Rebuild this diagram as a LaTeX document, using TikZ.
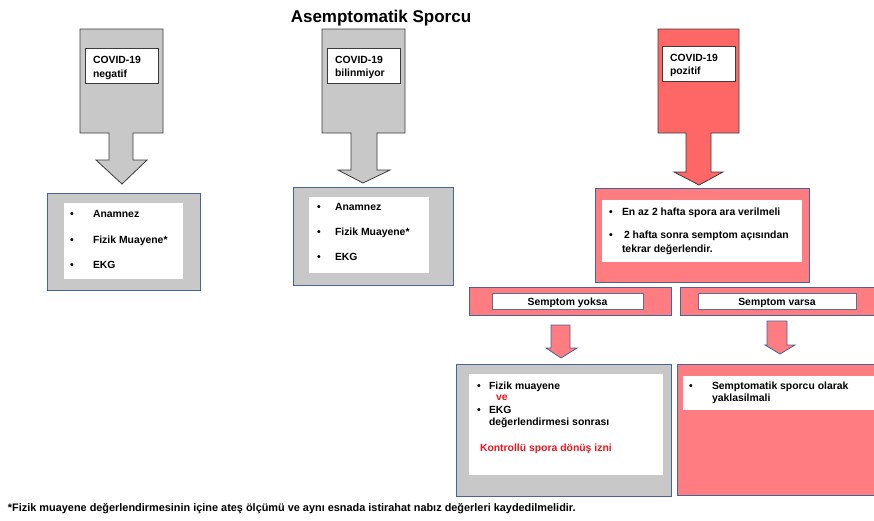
\documentclass[tikz,border=0pt]{standalone}
\usepackage{fontspec}
\setmainfont{Liberation Sans}
\definecolor{cgrey}{RGB}{200,200,200}
\definecolor{cred}{RGB}{255,102,102}
\definecolor{csalmon}{RGB}{255,124,128}
\definecolor{cblue}{RGB}{70,100,150}
\definecolor{cedge}{RGB}{60,60,60}
\definecolor{ctxtred}{RGB}{235,20,30}
\begin{document}
\begin{tikzpicture}[x=1pt,y=-1pt,
  every node/.style={inner sep=0pt, outer sep=0pt},
  bigarrow/.style={draw=cedge, line width=0.8pt, line join=miter},
  smallarrow/.style={draw=cblue, line width=0.8pt, fill=csalmon},
  outerbox/.style={draw=cblue, line width=0.8pt, anchor=north west},
  innerbox/.style={fill=white, anchor=north west},
  labelbox/.style={draw=cedge, line width=0.6pt, fill=white, anchor=north west},
  tinybox/.style={draw=cblue!60!gray, line width=0.5pt, fill=white, anchor=north west},
  txt/.style={anchor=base west, font=\fontsize{10.4}{12}\selectfont\bfseries},
  bul/.style={anchor=base west, font=\fontsize{10.4}{12}\selectfont\bfseries},
  redtxt/.style={txt, text=ctxtred}]
\clip (0,0) rectangle (874,520);
\useasboundingbox (0,0) rectangle (874,520);
\fill[white] (0,0) rectangle (874,520);

% title
\node[anchor=base, font=\fontsize{17}{20}\selectfont\bfseries] (title) at (381,22) {Asemptomatik Sporcu};

% ---------- column 1 ----------
\draw[bigarrow, fill=cgrey] (80,29) -- (163,29) -- (163,133) -- (133,133) -- (133,160) -- (147,160)
  -- (122,184) -- (96,160) -- (109,160) -- (109,133) -- (80,133) -- cycle;
\node[labelbox, minimum width=73, minimum height=35] (lab1) at (85,48) {};
\node[txt] (lab1a) at (93,63) {COVID-19};
\node[txt] (lab1b) at (93,77) {negatif};

\node[outerbox, fill=cgrey, minimum width=153, minimum height=97] (box1) at (47,193) {};
\node[innerbox, minimum width=119, minimum height=76] (in1) at (64,203) {};
\node[bul] (b1a) at (70,217) {•};
\node[txt] (t1a) at (93,217) {Anamnez};
\node[bul] (b1b) at (70,243) {•};
\node[txt] (t1b) at (93,243) {Fizik Muayene*};
\node[bul] (b1c) at (70,268) {•};
\node[txt] (t1c) at (93,268) {EKG};

% ---------- column 2 ----------
\draw[bigarrow, fill=cgrey] (322,29) -- (405,29) -- (405,133) -- (377,133) -- (377,170) -- (390,170)
  -- (363,183) -- (338,170) -- (351,170) -- (351,133) -- (322,133) -- cycle;
\node[labelbox, minimum width=73, minimum height=35] (lab2) at (327,48) {};
\node[txt] (lab2a) at (335,63) {COVID-19};
\node[txt] (lab2b) at (335,76) {bilinmiyor};

\node[outerbox, fill=cgrey, minimum width=160, minimum height=98] (box2) at (293,187) {};
\node[innerbox, minimum width=120, minimum height=76] (in2) at (309,197) {};
\node[bul] (b2a) at (317,210) {•};
\node[txt] (t2a) at (335,210) {Anamnez};
\node[bul] (b2b) at (317,235) {•};
\node[txt] (t2b) at (335,235) {Fizik Muayene*};
\node[bul] (b2c) at (317,260) {•};
\node[txt] (t2c) at (335,260) {EKG};

% ---------- column 3 ----------
\draw[bigarrow, fill=cred] (658,29) -- (739,29) -- (739,133) -- (711,133) -- (711,172) -- (723,172)
  -- (699,185) -- (674,172) -- (686,172) -- (686,133) -- (658,133) -- cycle;
\node[labelbox, minimum width=73, minimum height=35] (lab3) at (662,46) {};
\node[txt] (lab3a) at (670,61) {COVID-19};
\node[txt] (lab3b) at (670,74) {pozitif};

\node[outerbox, fill=csalmon, minimum width=214, minimum height=94] (box3) at (595,188) {};
\node[innerbox, minimum width=200, minimum height=62] (in3) at (602,200) {};
\node[bul] (b3a) at (609,215) {•};
\node[txt] (t3a) at (622,215) {En az 2 hafta spora ara verilmeli};
\node[bul] (b3b) at (609,238) {•};
\node[txt] (t3b) at (624,238) {2 hafta sonra semptom açısından};
\node[txt] (t3c) at (622,252) {tekrar değerlendir.};

% semptom row
\node[outerbox, fill=csalmon, minimum width=202, minimum height=28] (yoksaBox) at (469,287) {};
\node[tinybox, minimum width=151, minimum height=16] (yoksaIn) at (492,293) {};
\node[anchor=base, font=\fontsize{10.4}{12}\selectfont\bfseries] (yoksa) at (567.5,305) {Semptom yoksa};

\node[outerbox, fill=csalmon, minimum width=200, minimum height=28] (varsaBox) at (680,287) {};
\node[tinybox, minimum width=158, minimum height=16] (varsaIn) at (698,293) {};
\node[anchor=base, font=\fontsize{10.4}{12}\selectfont\bfseries] (varsa) at (777,305) {Semptom varsa};

% small arrows
\draw[smallarrow] (551,325) -- (570,325) -- (570,348) -- (577,348) -- (561,358) -- (546,348) -- (551,348) -- cycle;
\draw[smallarrow] (767,321) -- (787,321) -- (787,345) -- (795,345) -- (780,354) -- (765,345) -- (767,345) -- cycle;

% box 4
\node[outerbox, fill=cgrey, minimum width=215, minimum height=132] (box4) at (456,364) {};
\node[innerbox, minimum width=194, minimum height=101] (in4) at (469,374) {};
\node[bul] (b4a) at (477,389) {•};
\node[txt] (t4a) at (489,389) {Fizik muayene};
\node[redtxt] (t4ve) at (496,400) {ve};
\node[bul] (b4b) at (477,413) {•};
\node[txt] (t4b) at (489,413) {EKG};
\node[txt] (t4c) at (489,425) {değerlendirmesi sonrası};
\node[redtxt] (t4d) at (480,451) {Kontrollü spora dönüş izni};

% box 5
\node[outerbox, fill=csalmon, minimum width=205, minimum height=131] (box5) at (677,364) {};
\node[innerbox, minimum width=200, minimum height=34] (in5) at (683,376) {};
\node[bul] (b5a) at (689,389) {•};
\node[txt] (t5a) at (712,389) {Semptomatik sporcu olarak};
\node[txt] (t5b) at (712,401) {yaklasilmali};

% footnote
\node[anchor=base west, font=\fontsize{10.9}{13}\selectfont\bfseries] (foot) at (8,511)
  {*Fizik muayene değerlendirmesinin içine ateş ölçümü ve aynı esnada istirahat nabız değerleri kaydedilmelidir.};
\end{tikzpicture}
\end{document}
